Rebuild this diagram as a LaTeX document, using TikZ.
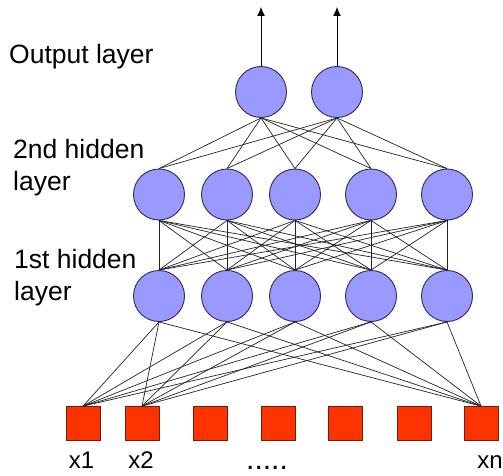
\documentclass[tikz,border=0pt]{standalone}
\usepackage{fontspec}
\setmainfont{Liberation Sans}
\usetikzlibrary{arrows.meta}
\definecolor{nodefill}{RGB}{153,153,255}
\definecolor{nodeline}{RGB}{45,45,85}
\definecolor{inpfill}{RGB}{255,51,0}
\definecolor{inpline}{RGB}{110,30,10}
\definecolor{edgecol}{RGB}{35,35,35}
\begin{document}
\begin{tikzpicture}[x=1pt,y=-1pt,
  neuron/.style={circle,draw=nodeline,fill=nodefill,line width=0.9pt,minimum size=51pt,inner sep=0pt},
  inputbox/.style={rectangle,draw=inpline,fill=inpfill,line width=0.8pt,minimum size=34pt,inner sep=0pt},
  conn/.style={draw=edgecol,line width=0.7pt},
  outarrow/.style={draw=black,line width=1pt,-{Latex[length=9pt,width=8pt]}},
  layerlabel/.style={font=\fontsize{26.5}{32}\selectfont,align=left,anchor=north west,inner sep=0pt},
  inlabel/.style={font=\fontsize{24}{28}\selectfont,anchor=base,inner sep=0pt}]
\useasboundingbox (0,0) rectangle (503,476);

% output layer
\node[neuron] (o1) at (261,92) {};
\node[neuron] (o2) at (337,92) {};
\coordinate (t1) at (261,7);
\coordinate (t2) at (337,7);

% hidden layers
\foreach \i/\x in {1/159,2/227,3/295,4/371,5/447}{
  \node[neuron] (b\i) at (\x,194.5) {};
  \node[neuron] (a\i) at (\x,296) {};
}

% inputs
\foreach \i/\x in {1/83,2/142,3/210,4/278,5/345,6/414,7/481}{
  \node[inputbox] (x\i) at (\x,423.5) {};
}

% connections
\foreach \j in {1,...,5}{
  \draw[conn] (o1.south) -- (b\j.north);
  \draw[conn] (o2.south) -- (b\j.north);
  \foreach \k in {1,...,5}{
    \draw[conn] (b\j.south) -- (a\k.north);
  }
  \draw[conn] (x1.north) -- (a\j.south);
  \draw[conn] (x2.north) -- (a\j.south);
  \draw[conn] (x7.north) -- (a\j.south);
}

\draw[outarrow] (o1.north) -- (t1);
\draw[outarrow] (o2.north) -- (t2);

% labels
\node[layerlabel] (lo) at (9,44.5) {Output layer};
\node[layerlabel] (l2) at (13,139.5) {2nd hidden\\layer};
\node[layerlabel] (l1) at (14,249) {1st hidden\\layer};

\node[inlabel] (lx1) at (81.5,468.5) {x1};
\node[inlabel] (lx2) at (141,468.5) {x2};
\node[inlabel,font=\fontsize{30}{34}\selectfont] (ldots) at (267,469) {.....};
\node[inlabel] (lxn) at (490,468.5) {xn};
\end{tikzpicture}
\end{document}
